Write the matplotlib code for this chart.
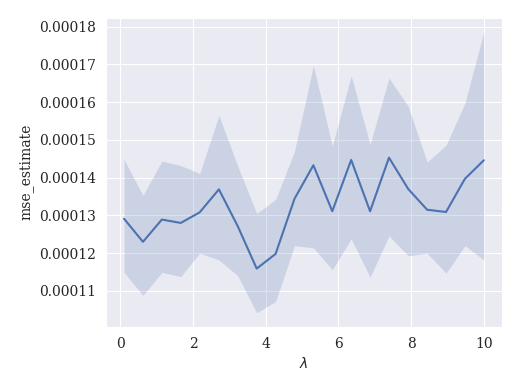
import matplotlib
matplotlib.use("Agg")
import matplotlib.pyplot as plt
import seaborn as sns

# lambda values (x) and mse estimate with its confidence band
lam = [0.1, 0.62, 1.14, 1.66, 2.18, 2.71, 3.23, 3.75, 4.27, 4.79,
       5.31, 5.83, 6.35, 6.87, 7.39, 7.92, 8.44, 8.96, 9.48, 10.0]
mse_mean = [0.0001291, 0.0001230, 0.0001289, 0.0001280, 0.0001308,
            0.0001369, 0.0001271, 0.0001159, 0.0001198, 0.0001344,
            0.0001433, 0.0001311, 0.0001447, 0.0001311, 0.0001453,
            0.0001370, 0.0001315, 0.0001309, 0.0001397, 0.0001446]
mse_upper = [0.0001448, 0.0001353, 0.0001444, 0.0001432, 0.0001411,
             0.0001565, 0.0001430, 0.0001305, 0.0001342, 0.0001470,
             0.0001697, 0.0001484, 0.0001670, 0.0001488, 0.0001664,
             0.0001589, 0.0001441, 0.0001486, 0.0001597, 0.0001787]
mse_lower = [0.0001149, 0.0001088, 0.0001149, 0.0001138, 0.0001200,
             0.0001182, 0.0001140, 0.0001042, 0.0001072, 0.0001220,
             0.0001214, 0.0001156, 0.0001238, 0.0001136, 0.0001246,
             0.0001193, 0.0001200, 0.0001147, 0.0001220, 0.0001182]

sns.set_style("darkgrid")
plt.rcParams["font.family"] = ["DejaVu Serif"]

fig, ax = plt.subplots(figsize=(5.2, 3.9), dpi=100)
fig.subplots_adjust(left=0.204, right=0.965, bottom=0.162, top=0.955)

color = sns.color_palette("deep")[0]
ax.fill_between(lam, mse_lower, mse_upper, color=color, alpha=0.2, linewidth=0)
ax.plot(lam, mse_mean, color=color, linewidth=1.5)

ax.set_xlabel(r"$\lambda$")
ax.set_ylabel("mse_estimate")
ax.set_xticks([0, 2, 4, 6, 8, 10])
ax.set_yticks([0.00011, 0.00012, 0.00013, 0.00014, 0.00015,
               0.00016, 0.00017, 0.00018])
ax.set_yticklabels(["0.00011", "0.00012", "0.00013", "0.00014", "0.00015",
                    "0.00016", "0.00017", "0.00018"])

fig.savefig("out.png", dpi=100)
